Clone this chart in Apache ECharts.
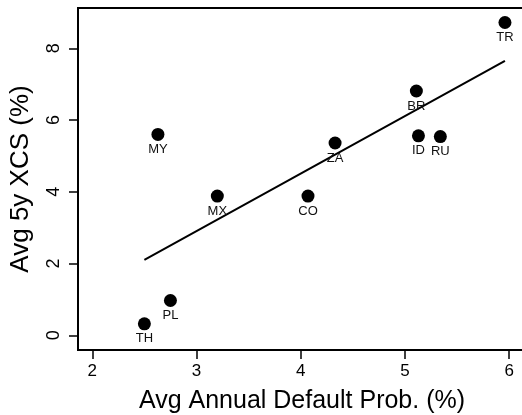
<!DOCTYPE html>
<html><head><meta charset="utf-8">
<script src="https://cdn.jsdelivr.net/npm/echarts@6/dist/echarts.min.js"></script>
<style>html,body{margin:0;padding:0;background:#fff}#c{width:522px;height:415px}</style>
</head><body><div id="c"></div>
<script>
const countries = ['TH','PL','MY','MX','CO','ZA','BR','ID','RU','TR'];
const defaultProb = [2.50, 2.75, 2.63, 3.20, 4.07, 4.33, 5.11, 5.13, 5.34, 5.96];
const xcs = [0.32, 0.97, 5.60, 3.88, 3.88, 5.36, 6.81, 5.56, 5.54, 8.72];
const fitX = [2.50, 5.96];
const fitY = [2.10, 7.65];
const xTicks = [2, 3, 4, 5, 6];
const yTicks = [0, 2, 4, 6, 8];

const FONT = 'Liberation Sans, Arial, Helvetica, sans-serif';
const chart = echarts.init(document.getElementById('c'), null, {renderer: 'canvas'});
chart.setOption({
  animation: false,
  backgroundColor: '#fff',
  grid: {left: 78, top: 8, width: 448, height: 342, containLabel: false, outerBoundsMode: 'none',
         show: true, borderColor: '#000', borderWidth: 2, backgroundColor: 'transparent'},
  xAxis: {
    type: 'value', min: 1.863, max: 6.162,
    name: 'Avg Annual Default Prob. (%)', nameLocation: 'middle', nameGap: 39,
    nameTextStyle: {fontFamily: FONT, fontSize: 25, color: '#000'},
    axisLine: {show: false, onZero: false},
    splitLine: {show: false},
    axisTick: {show: true, length: 9, customValues: xTicks, lineStyle: {color: '#000', width: 1.5}},
    axisLabel: {customValues: xTicks, margin: 13, fontFamily: FONT, fontSize: 17, color: '#000'}
  },
  yAxis: {
    type: 'value', min: -0.41, max: 9.124,
    name: 'Avg 5y XCS (%)', nameLocation: 'middle', nameGap: 44,
    nameTextStyle: {fontFamily: FONT, fontSize: 26, color: '#000'},
    axisLine: {show: false, onZero: false},
    splitLine: {show: false},
    axisTick: {show: true, length: 9, customValues: yTicks, lineStyle: {color: '#000', width: 1.5}},
    axisLabel: {customValues: yTicks, rotate: 90, margin: 15, fontFamily: FONT, fontSize: 18, color: '#000'}
  },
  series: [
    {
      type: 'line',
      data: fitX.map((x, i) => [x, fitY[i]]),
      symbol: 'none',
      lineStyle: {color: '#000', width: 2},
      z: 2
    },
    {
      type: 'scatter',
      data: defaultProb.map((x, i) => [x, xcs[i], countries[i]]),
      symbolSize: 13,
      itemStyle: {color: '#000', opacity: 1},
      label: {
        show: true, position: 'bottom', distance: 2,
        formatter: p => p.data[2],
        fontFamily: FONT, fontSize: 13, color: '#111'
      },
      z: 3
    }
  ]
});
</script>
</body></html>
